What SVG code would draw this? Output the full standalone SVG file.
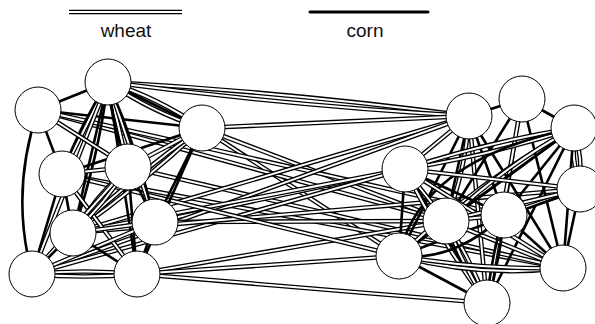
<svg xmlns="http://www.w3.org/2000/svg" width="595" height="324" viewBox="0 0 595 324">
<style>
.wb{fill:none;stroke:#000;stroke-width:4.6}
.ww{fill:none;stroke:#fff;stroke-width:2}
.c{fill:none;stroke:#000;stroke-width:2.6}
.n circle{fill:#fff;stroke:#000;stroke-width:1}
text{font-family:"Liberation Sans",Arial,sans-serif;font-size:19px;fill:#111;text-anchor:middle}
</style>
<rect width="595" height="324" fill="#fff"/>
<g id="legend">
<path class="wb" d="M69 12 H182"/><path class="ww" d="M69 12 H182"/>
<text x="126" y="37">wheat</text>
<path d="M310 12 H428" fill="none" stroke="#000" stroke-width="3" stroke-linecap="round"/>
<text x="365" y="37">corn</text>
</g>
<g id="connectors">
<!-- cross-cluster wheat -->
<path class="wb" d="M108 82 Q288 92 469 116"/><path class="ww" d="M108 82 Q288 92 469 116"/>
<path class="wb" d="M108 82 Q290 106 469 116"/><path class="ww" d="M108 82 Q290 106 469 116"/>
<path class="wb" d="M202 128 L469 116"/><path class="ww" d="M202 128 L469 116"/>
<path class="wb" d="M202 128 L446 221"/><path class="ww" d="M202 128 L446 221"/>
<path class="wb" d="M202 128 L399 256"/><path class="ww" d="M202 128 L399 256"/>
<path class="wb" d="M38 110 L446 221"/><path class="ww" d="M38 110 L446 221"/>
<path class="wb" d="M38 110 L504 215"/><path class="ww" d="M38 110 L504 215"/>
<path class="wb" d="M62 174 L563 268"/><path class="ww" d="M62 174 L563 268"/>
<path class="wb" d="M128 167 L563 268"/><path class="ww" d="M128 167 L563 268"/>
<path class="wb" d="M155 222 L405 169"/><path class="ww" d="M155 222 L405 169"/>
<path class="wb" d="M73 233 L469 116"/><path class="ww" d="M73 233 L469 116"/>
<path class="wb" d="M32 274 L469 116"/><path class="ww" d="M32 274 L469 116"/>
<path class="wb" d="M73 233 L405 169"/><path class="ww" d="M73 233 L405 169"/>
<path class="wb" d="M32 274 L405 169"/><path class="ww" d="M32 274 L405 169"/>
<path class="wb" d="M137 274 L487 303"/><path class="ww" d="M137 274 L487 303"/>
<path class="wb" d="M137 274 L446 221"/><path class="ww" d="M137 274 L446 221"/>
<path class="wb" d="M137 274 L399 256"/><path class="ww" d="M137 274 L399 256"/>
<path class="wb" d="M155 222 L446 221"/><path class="ww" d="M155 222 L446 221"/>
<path class="wb" d="M73 233 L580 189"/><path class="ww" d="M73 233 L580 189"/>
<path class="wb" d="M62 174 L399 256"/><path class="ww" d="M62 174 L399 256"/>
<!-- left cluster -->
<path class="c" d="M108 82 L38 110"/>
<path class="c" d="M38 110 L62 174"/>
<path class="c" d="M38 110 Q10 192 32 274"/>
<path class="c" d="M38 110 L202 128"/>
<path class="wb" d="M108 82 Q151.5 112.2 202 128"/><path class="ww" d="M108 82 Q151.5 112.2 202 128"/>
<path class="wb" d="M108 82 Q158.5 97.8 202 128"/><path class="ww" d="M108 82 Q158.5 97.8 202 128"/>
<path class="c" d="M108 82 L202 128"/>
<path class="wb" d="M108 82 L62 174"/><path class="ww" d="M108 82 L62 174"/>
<path class="c" d="M108 82 Q80 125 62 174"/>
<path class="wb" d="M108 82 L128 167"/><path class="ww" d="M108 82 L128 167"/>
<path class="c" d="M108 82 Q112 128 128 167"/>
<path class="c" d="M108 82 L73 233"/>
<path class="c" d="M108 82 Q98.3 159.3 73 233"/>
<path class="wb" d="M108 82 L155 222"/><path class="ww" d="M108 82 L155 222"/>
<path class="c" d="M108 82 Q138 150 155 222"/>
<path class="c" d="M108 82 L137 274"/>
<path class="wb" d="M108 82 L32 274"/><path class="ww" d="M108 82 L32 274"/>
<path class="wb" d="M38 110 L128 167"/><path class="ww" d="M38 110 L128 167"/>
<path class="c" d="M202 128 L62 174"/>
<path class="wb" d="M202 128 L128 167"/><path class="ww" d="M202 128 L128 167"/>
<path class="wb" d="M202 128 Q141.3 185.2 73 233"/><path class="ww" d="M202 128 Q141.3 185.2 73 233"/>
<path class="wb" d="M202 128 Q133.7 175.8 73 233"/><path class="ww" d="M202 128 Q133.7 175.8 73 233"/>
<path class="c" d="M202 128 L155 222"/>
<path class="c" d="M202 128 L137 274"/>
<path class="wb" d="M62 174 L128 167"/><path class="ww" d="M62 174 L128 167"/>
<path class="wb" d="M62 174 L137 274"/><path class="ww" d="M62 174 L137 274"/>
<path class="c" d="M62 174 L73 233"/>
<path class="c" d="M62 174 L32 274"/>
<path class="wb" d="M128 167 Q105.1 203.8 73 233"/><path class="ww" d="M128 167 Q105.1 203.8 73 233"/>
<path class="wb" d="M128 167 Q95.9 196.2 73 233"/><path class="ww" d="M128 167 Q95.9 196.2 73 233"/>
<path class="wb" d="M128 167 L32 274"/><path class="ww" d="M128 167 L32 274"/>
<path class="c" d="M128 167 L155 222"/>
<path class="c" d="M128 167 L137 274"/>
<path class="wb" d="M73 233 L155 222"/><path class="ww" d="M73 233 L155 222"/>
<path class="wb" d="M155 222 L32 274"/><path class="ww" d="M155 222 L32 274"/>
<path class="c" d="M73 233 L32 274"/>
<path class="c" d="M73 233 L137 274"/>
<path class="c" d="M155 222 L137 274"/>
<path class="wb" d="M32 274 Q84.5 269 137 274"/><path class="ww" d="M32 274 Q84.5 269 137 274"/>
<path class="wb" d="M32 274 Q84.5 279 137 274"/><path class="ww" d="M32 274 Q84.5 279 137 274"/>
<!-- right cluster -->
<path class="c" d="M469 116 L522 99"/>
<path class="c" d="M522 99 L574 128"/>
<path class="wb" d="M574 128 Q571 158.5 580 189"/><path class="ww" d="M574 128 Q571 158.5 580 189"/>
<path class="wb" d="M574 128 Q583 158.5 580 189"/><path class="ww" d="M574 128 Q583 158.5 580 189"/>
<path class="wb" d="M469 116 L405 169"/><path class="ww" d="M469 116 L405 169"/>
<path class="c" d="M469 116 L446 221"/>
<path class="wb" d="M469 116 Q466 170 446 221"/><path class="ww" d="M469 116 Q466 170 446 221"/>
<path class="c" d="M469 116 L504 215"/>
<path class="c" d="M469 116 L399 256"/>
<path class="c" d="M469 116 L563 268"/>
<path class="wb" d="M469 116 L487 303"/><path class="ww" d="M469 116 L487 303"/>
<path class="c" d="M522 99 L446 221"/>
<path class="c" d="M522 99 L504 215"/>
<path class="c" d="M522 99 L563 268"/>
<path class="wb" d="M522 99 L487 303"/><path class="ww" d="M522 99 L487 303"/>
<path class="wb" d="M574 128 Q491.2 155.3 405 169"/><path class="ww" d="M574 128 Q491.2 155.3 405 169"/>
<path class="wb" d="M574 128 Q487.8 141.7 405 169"/><path class="ww" d="M574 128 Q487.8 141.7 405 169"/>
<path class="c" d="M574 128 L399 256"/>
<path class="wb" d="M574 128 Q480 180 399 256"/><path class="ww" d="M574 128 Q480 180 399 256"/>
<path class="c" d="M574 128 L446 221"/>
<path class="wb" d="M574 128 Q505 165 446 221"/><path class="ww" d="M574 128 Q505 165 446 221"/>
<path class="c" d="M574 128 L504 215"/>
<path class="c" d="M574 128 L487 303"/>
<path class="c" d="M574 128 L563 268"/>
<path class="c" d="M399 256 Q420 160 574 128"/>
<path class="c" d="M405 169 L399 256"/>
<path class="c" d="M405 169 L504 215"/>
<path class="c" d="M405 169 L487 303"/>
<path class="wb" d="M405 169 L580 189"/><path class="ww" d="M405 169 L580 189"/>
<path class="wb" d="M405 169 Q440 240 487 303"/><path class="ww" d="M405 169 Q440 240 487 303"/>
<path class="wb" d="M405 169 L446 221"/><path class="ww" d="M405 169 L446 221"/>
<path class="wb" d="M405 169 L563 268"/><path class="ww" d="M405 169 L563 268"/>
<path class="wb" d="M580 189 L504 215"/><path class="ww" d="M580 189 L504 215"/>
<path class="wb" d="M580 189 L446 221"/><path class="ww" d="M580 189 L446 221"/>
<path class="c" d="M580 189 L563 268"/>
<path class="c" d="M580 189 L399 256"/>
<path class="wb" d="M446 221 L504 215"/><path class="ww" d="M446 221 L504 215"/>
<path class="wb" d="M446 221 Q471 259.8 487 303"/><path class="ww" d="M446 221 Q471 259.8 487 303"/>
<path class="wb" d="M446 221 Q462 264.2 487 303"/><path class="ww" d="M446 221 Q462 264.2 487 303"/>
<path class="wb" d="M446 221 L563 268"/><path class="ww" d="M446 221 L563 268"/>
<path class="c" d="M504 215 Q500.4 260 487 303"/>
<path class="c" d="M504 215 Q490.6 258 487 303"/>
<path class="c" d="M504 215 L563 268"/>
<path class="c" d="M399 256 Q455 262 504 215"/>
<path class="c" d="M399 256 L487 303"/>
<path class="wb" d="M399 256 Q481 278 563 268"/><path class="ww" d="M399 256 Q481 278 563 268"/>
<path class="wb" d="M399 256 Q481 270 563 268"/><path class="ww" d="M399 256 Q481 270 563 268"/>
</g>
<g id="L1" class="n"><circle cx="108" cy="82" r="23"/></g>
<g id="L2" class="n"><circle cx="38" cy="110" r="23"/></g>
<g id="L3" class="n"><circle cx="202" cy="128" r="23"/></g>
<g id="L4" class="n"><circle cx="62" cy="174" r="23"/></g>
<g id="L5" class="n"><circle cx="128" cy="167" r="23"/></g>
<g id="L6" class="n"><circle cx="73" cy="233" r="23"/></g>
<g id="L7" class="n"><circle cx="155" cy="222" r="23"/></g>
<g id="L8" class="n"><circle cx="32" cy="274" r="23"/></g>
<g id="L9" class="n"><circle cx="137" cy="274" r="23"/></g>
<g id="R1" class="n"><circle cx="469" cy="116" r="23"/></g>
<g id="R2" class="n"><circle cx="522" cy="99" r="23"/></g>
<g id="R3" class="n"><circle cx="574" cy="128" r="23"/></g>
<g id="R4" class="n"><circle cx="405" cy="169" r="23"/></g>
<g id="R5" class="n"><circle cx="580" cy="189" r="23"/></g>
<g id="R6" class="n"><circle cx="446" cy="221" r="23"/></g>
<g id="R7" class="n"><circle cx="504" cy="215" r="23"/></g>
<g id="R8" class="n"><circle cx="399" cy="256" r="23"/></g>
<g id="R9" class="n"><circle cx="563" cy="268" r="23"/></g>
<g id="R10" class="n"><circle cx="487" cy="303" r="23"/></g>
</svg>
